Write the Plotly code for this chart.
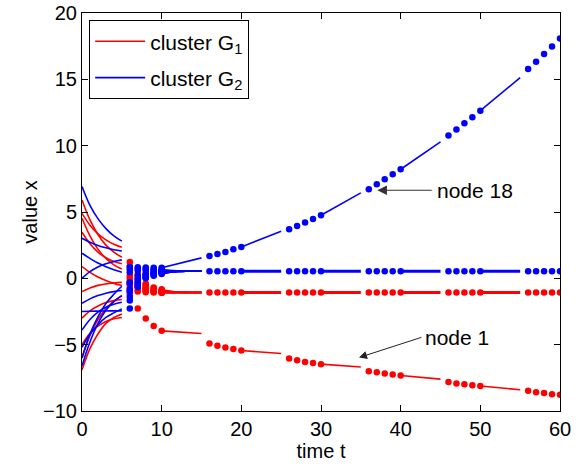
import plotly.graph_objects as go

# ---------------- data ----------------
T_INIT = [0, 1, 2, 3, 4, 5]
# cluster G1 (red) curves on [0,5]; first row = node 1
G1_INIT = [
    [0.89, 0.45, 0.10, -0.17, -0.38, -0.54],
    [5.91, 4.40, 3.30, 2.50, 1.98, 1.59],
    [4.90, 4.00, 3.35, 2.90, 2.57, 2.34],
    [4.53, 3.20, 2.20, 1.50, 1.02, 0.70],
    [3.47, 2.60, 1.98, 1.55, 1.27, 1.10],
    [-1.00, -0.72, -0.53, -0.42, -0.35, -0.30],
    [-3.00, -2.45, -2.08, -1.82, -1.68, -1.60],
    [-5.00, -4.15, -3.60, -3.25, -3.05, -2.95],
    [-6.00, -4.30, -3.10, -2.30, -1.72, -1.30],
    [-6.90, -5.30, -4.20, -3.40, -2.95, -2.68],
]
# cluster G2 (blue) curves on [0,5]; last row = node 18
G2_INIT = [
    [6.92, 5.50, 4.50, 3.75, 3.20, 2.80],
    [3.02, 2.72, 2.48, 2.30, 2.16, 2.06],
    [1.89, 1.50, 1.15, 0.88, 0.65, 0.46],
    [0.00, 0.50, 0.85, 1.10, 1.27, 1.39],
    [-1.88, -1.55, -1.30, -1.12, -1.00, -0.92],
    [-2.50, -2.48, -2.47, -2.46, -2.45, -2.45],
    [-3.90, -3.10, -2.55, -2.18, -1.95, -1.80],
    [-6.00, -4.20, -2.90, -1.90, -1.20, -0.60],
    [-6.60, -4.80, -3.40, -2.40, -1.75, -1.30],
    [-5.20, -4.20, -3.50, -2.95, -2.60, -2.30],
]

T_DOTS_A = [6, 7, 8, 9, 10]
G1_DOTS_A = [
    [-1.20, -2.28, -3.03, -3.59, -3.96],
    [1.24, 0.33, -0.45, -0.70, -0.82],
    [0.90, 0.18, -0.40, -0.75, -0.90],
    [0.00, -0.30, -0.60, -0.80, -0.95],
    [-0.22, -0.54, -0.75, -0.90, -1.00],
    [-0.57, -0.70, -0.85, -0.95, -1.03],
    [-1.02, -0.90, -0.95, -1.00, -1.05],
    [-0.40, -0.60, -0.90, -1.02, -1.07],
    [0.20, -0.10, -0.70, -0.95, -1.08],
    [-0.80, -1.00, -1.05, -1.07, -1.08],
]
G2_DOTS_A = [
    [0.69, 0.75, 0.70, 0.70, 0.68],
    [0.46, 0.59, 0.62, 0.62, 0.62],
    [-0.29, 0.20, 0.40, 0.50, 0.55],
    [-0.39, 0.00, 0.30, 0.45, 0.50],
    [-0.82, -0.42, 0.05, 0.30, 0.42],
    [-1.40, -0.65, 0.00, 0.25, 0.38],
    [-2.28, -0.50, 0.10, 0.20, 0.32],
    [-1.68, -0.30, 0.15, 0.35, 0.45],
    [-1.00, -0.10, 0.25, 0.40, 0.48],
    [0.86, 0.84, 0.82, 0.80, 0.80],
]

T_SETTLE = [10, 11, 12, 13, 14, 15]
G1_SETTLE = [
    [-0.82, -0.96, -1.03, -1.06, -1.07, -1.07],
    [-0.90, -1.00, -1.04, -1.06, -1.07, -1.07],
    [-0.95, -1.02, -1.05, -1.06, -1.07, -1.07],
    [-1.00, -1.04, -1.06, -1.07, -1.07, -1.07],
    [-1.03, -1.05, -1.06, -1.07, -1.07, -1.07],
    [-1.05, -1.06, -1.07, -1.07, -1.07, -1.07],
    [-1.07, -1.07, -1.07, -1.07, -1.07, -1.07],
    [-1.08, -1.08, -1.07, -1.07, -1.07, -1.07],
    [-1.08, -1.08, -1.07, -1.07, -1.07, -1.07],
]
G2_SETTLE = [
    [0.68, 0.60, 0.56, 0.54, 0.54, 0.54],
    [0.62, 0.57, 0.55, 0.54, 0.54, 0.54],
    [0.55, 0.54, 0.54, 0.54, 0.54, 0.54],
    [0.50, 0.52, 0.53, 0.54, 0.54, 0.54],
    [0.42, 0.49, 0.52, 0.53, 0.54, 0.54],
    [0.38, 0.47, 0.51, 0.53, 0.54, 0.54],
    [0.32, 0.45, 0.50, 0.53, 0.54, 0.54],
    [0.45, 0.50, 0.52, 0.53, 0.54, 0.54],
    [0.48, 0.51, 0.53, 0.54, 0.54, 0.54],
]

# continuous segments after t=10 and sampled instants
SEG_START = [10, 20, 30, 40, 50]
SEG_END = [15, 25, 35, 45, 55]
T_DOTS = [16, 17, 18, 19, 20, 26, 27, 28, 29, 30, 36, 37, 38, 39, 40,
          46, 47, 48, 49, 50, 56, 57, 58, 59, 60]

NODE1_SEG = [[-3.96, -4.16], [-5.44, -5.67], [-6.47, -6.68], [-7.32, -7.60], [-8.11, -8.40]]
NODE1_DOTS = [-4.91, -5.09, -5.21, -5.32, -5.44, -6.04, -6.17, -6.30, -6.38, -6.47,
              -7.00, -7.08, -7.17, -7.25, -7.32, -7.81, -7.93, -7.98, -8.06, -8.11,
              -8.48, -8.58, -8.64, -8.73, -8.78]
NODE18_SEG = [[0.80, 1.54], [2.37, 3.55], [4.76, 6.44], [8.22, 10.28], [12.64, 15.13]]
NODE18_DOTS = [1.69, 1.84, 1.99, 2.19, 2.37, 3.70, 3.95, 4.20, 4.48, 4.76,
               6.71, 7.09, 7.47, 7.84, 8.22, 10.76, 11.21, 11.69, 12.14, 12.64,
               15.78, 16.33, 16.91, 17.48, 18.07]

G1_CONS_SEG = [[-1.07, -1.07], [-1.07, -1.07], [-1.07, -1.07], [-1.07, -1.07]]
G2_CONS_SEG = [[0.54, 0.54], [0.54, 0.54], [0.54, 0.54], [0.54, 0.54]]
G1_CONS_DOTS = [-1.07, -1.07, -1.07, -1.07, -1.07, -1.07, -1.07, -1.07, -1.07, -1.07,
                -1.07, -1.07, -1.07, -1.07, -1.07, -1.07, -1.07, -1.07, -1.07, -1.07,
                -1.07, -1.07, -1.07, -1.07, -1.07]
G2_CONS_DOTS = [0.54, 0.54, 0.54, 0.54, 0.54, 0.54, 0.54, 0.54, 0.54, 0.54,
                0.54, 0.54, 0.54, 0.54, 0.54, 0.54, 0.54, 0.54, 0.54, 0.54,
                0.54, 0.54, 0.54, 0.54, 0.54]

RED = "#ff0000"
BLUE = "#0000ff"
FONT = "Liberation Sans, Arial, Helvetica, sans-serif"

fig = go.Figure()


def join_rows(xs, rows):
    X, Y = [], []
    for r in rows:
        X += list(xs) + [None]
        Y += list(r) + [None]
    return X, Y


def add_cluster(color, name, init, dots_a, settle, special_seg, special_dots,
                cons_seg, cons_dots):
    X, Y = join_rows(T_INIT, init)
    fig.add_trace(go.Scatter(x=X, y=Y, mode="lines", line=dict(color=color, width=1.6, shape="spline"),
                             name=name, legendgroup=name, showlegend=True, hoverinfo="skip"))
    X, Y = join_rows(T_SETTLE, settle)
    fig.add_trace(go.Scatter(x=X, y=Y, mode="lines", line=dict(color=color, width=1.6, shape="spline"),
                             legendgroup=name, showlegend=False, hoverinfo="skip"))
    X, Y = [], []
    for s, e, v in zip(SEG_START[1:], SEG_END[1:], cons_seg):
        X += [s, e, None]
        Y += [v[0], v[1], None]
    fig.add_trace(go.Scatter(x=X, y=Y, mode="lines", line=dict(color=color, width=3),
                             legendgroup=name, showlegend=False, hoverinfo="skip"))
    X, Y = [], []
    for s, e, v in zip(SEG_START, SEG_END, special_seg):
        X += [s, e, None]
        Y += [v[0], v[1], None]
    fig.add_trace(go.Scatter(x=X, y=Y, mode="lines", line=dict(color=color, width=1.6),
                             legendgroup=name, showlegend=False, hoverinfo="skip"))
    X, Y = join_rows(T_DOTS_A, dots_a)
    fig.add_trace(go.Scatter(x=X, y=Y, mode="markers", marker=dict(color=color, size=6.5),
                             legendgroup=name, showlegend=False, hoverinfo="skip"))
    fig.add_trace(go.Scatter(x=T_DOTS + T_DOTS, y=cons_dots + special_dots, mode="markers",
                             marker=dict(color=color, size=6.5),
                             legendgroup=name, showlegend=False, hoverinfo="skip"))


add_cluster(RED, "cluster G<sub>1</sub>", G1_INIT, G1_DOTS_A, G1_SETTLE, NODE1_SEG, NODE1_DOTS,
            G1_CONS_SEG, G1_CONS_DOTS)
add_cluster(BLUE, "cluster G<sub>2</sub>", G2_INIT, G2_DOTS_A, G2_SETTLE, NODE18_SEG, NODE18_DOTS,
            G2_CONS_SEG, G2_CONS_DOTS)

axis_common = dict(showline=True, linecolor="black", linewidth=1, mirror="ticks",
                   ticks="inside", ticklen=6, tickcolor="black", showgrid=False, zeroline=False,
                   automargin=False,
                   tickfont=dict(family=FONT, size=20, color="black"))

fig.update_layout(
    width=582, height=464,
    margin=dict(l=82, r=22, t=13, b=53, autoexpand=False),
    paper_bgcolor="white", plot_bgcolor="white",
    font=dict(family=FONT, size=20, color="black"),
    xaxis=dict(range=[0, 60], dtick=10, tick0=0,
               title=dict(text="time t", font=dict(size=20), standoff=2), **axis_common),
    yaxis=dict(range=[-10, 20], dtick=5, tick0=0,
               title=dict(text="value x", font=dict(size=20), standoff=0), **axis_common),
    legend=dict(x=0.015, y=0.982, xanchor="left", yanchor="top",
                bgcolor="white", bordercolor="black", borderwidth=1,
                traceorder="grouped", tracegroupgap=6, itemwidth=50,
                font=dict(family=FONT, size=21, color="black")),
    showlegend=True,
)

fig.add_annotation(x=37.07, y=6.64, ax=43.9, ay=6.64, xref="x", yref="y", axref="x", ayref="y",
                   text="node 18", xanchor="left", yanchor="middle", borderpad=4,
                   showarrow=True, arrowhead=2, arrowsize=1.6, arrowwidth=1.2,
                   arrowcolor="#333333", font=dict(family=FONT, size=21, color="black"))
fig.add_annotation(x=34.77, y=-5.97, ax=42.6, ay=-4.45, xref="x", yref="y", axref="x", ayref="y",
                   text="node 1", xanchor="left", yanchor="middle", borderpad=3,
                   showarrow=True, arrowhead=2, arrowsize=1.6, arrowwidth=1.0,
                   arrowcolor="#222222", font=dict(family=FONT, size=21, color="black"))

fig.write_html("out.html")
